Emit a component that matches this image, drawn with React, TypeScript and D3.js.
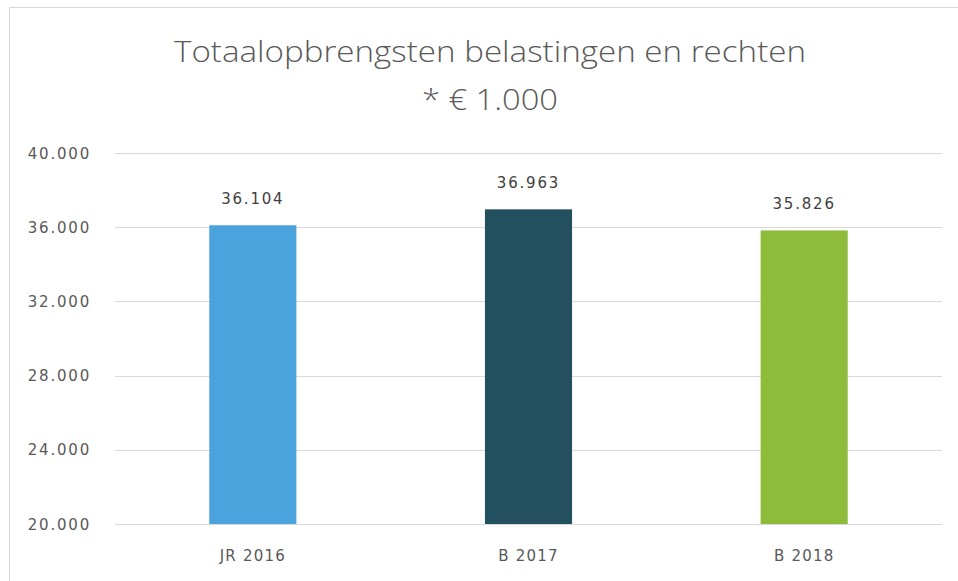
import React from "react";
import * as d3 from "d3";

const categories = ["JR 2016", "B 2017", "B 2018"];
const values = [36104, 36963, 35826];
const barColors = ["#4BA3DD", "#23505F", "#8DBB3A"];
const yTicks = [20000, 24000, 28000, 32000, 36000, 40000];
const titleLines = ["Totaalopbrengsten belastingen en rechten", "* € 1.000"];

const W = 958;
const H = 581;

const fmt = (v: number) => d3.format(",")(v).replace(/,/g, ".");

export default function App() {
  const x = d3.scaleBand<string>().domain(categories).range([115, 942]).padding(0);
  const y = d3.scaleLinear().domain([20000, 40000]).range([524, 153]);
  const barW = x.bandwidth() * 0.316;
  const numFont = "'DejaVu Sans', sans-serif";
  const titleFont = "'Open Sans', Lato, sans-serif";

  return (
    <div style={{ position: "absolute", left: 0, top: 0 }}>
      <svg width={W} height={H} style={{ display: "block", background: "#fff" }}>
        <rect x={9.5} y={7.5} width={W + 20} height={H + 20} fill="#fff" stroke="#d9d9d9" strokeWidth={1} />
        <text x={490} y={62} textAnchor="middle" fontFamily={titleFont} fontWeight={300} fontSize={30} fill="#595959" textLength={632} lengthAdjust="spacingAndGlyphs">
          {titleLines[0]}
        </text>
        <text x={490} y={110} textAnchor="middle" fontFamily={titleFont} fontWeight={300} fontSize={30} fill="#595959" textLength={136} lengthAdjust="spacingAndGlyphs">
          {titleLines[1]}
        </text>
        {yTicks.map((t) => (
          <g key={t}>
            <line x1={115} x2={942} y1={Math.round(y(t)) + 0.5} y2={Math.round(y(t)) + 0.5} stroke="#d9d9d9" strokeWidth={1} />
            <text x={91} y={y(t) + 5.5} textAnchor="end" fontFamily={numFont} fontSize={15} letterSpacing={1.8} fill="#595959">
              {fmt(t)}
            </text>
          </g>
        ))}
        {categories.map((c, i) => {
          const cx = (x(c) as number) + x.bandwidth() / 2;
          return (
            <g key={c}>
              <rect x={cx - barW / 2} y={y(values[i])} width={barW} height={y(20000) - y(values[i])} fill={barColors[i]} />
              <text x={cx} y={y(values[i]) - 21} textAnchor="middle" fontFamily={numFont} fontSize={15} letterSpacing={1.8} fill="#404040">
                {fmt(values[i])}
              </text>
              <text x={cx} y={561} textAnchor="middle" fontFamily={numFont} fontSize={15} letterSpacing={1.2} fill="#595959">
                {c}
              </text>
            </g>
          );
        })}
      </svg>
    </div>
  );
}
